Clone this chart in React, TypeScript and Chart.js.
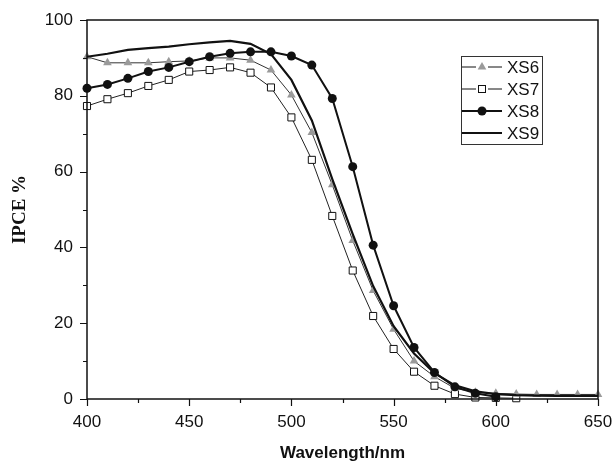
import React, { useEffect, useRef } from 'react';
import { Chart, registerables } from 'chart.js';

Chart.register(...registerables);

const wavelengths = [400, 410, 420, 430, 440, 450, 460, 470, 480, 490, 500, 510, 520, 530, 540, 550, 560, 570, 580, 590, 600, 610, 620, 630, 640, 650];
const xs6 = [90.3, 88.7, 88.7, 88.7, 89.0, 89.2, 90.0, 90.0, 89.4, 86.8, 80.2, 70.3, 56.5, 41.8, 28.6, 18.4, 10.0, 5.9, 2.8, 1.8, 1.5, 1.3, 1.2, 1.2, 1.2, 1.2];
const xs7 = [77.3, 79.1, 80.7, 82.6, 84.2, 86.4, 86.8, 87.5, 86.1, 82.2, 74.3, 63.1, 48.3, 33.9, 21.9, 13.2, 7.2, 3.5, 1.3, 0.4, 0.3, 0.2, null, null, null, null];
const xs8 = [82.0, 83.0, 84.6, 86.4, 87.5, 89.0, 90.3, 91.2, 91.6, 91.6, 90.5, 88.1, 79.3, 61.3, 40.6, 24.6, 13.6, 7.0, 3.2, 1.5, 0.6, null, null, null, null, null];
const xs9 = [90.3, 91.1, 92.1, 92.6, 93.0, 93.6, 94.1, 94.5, 93.7, 91.0, 84.2, 73.5, 58.0, 43.5, 29.8, 19.2, 12.0, 6.8, 3.6, 2.0, 1.3, 1.0, 0.9, 0.8, 0.8, 0.8];
const seriesNames = ['XS6', 'XS7', 'XS8', 'XS9'];
const xTickValues = [400, 450, 500, 550, 600, 650];
const yTickValues = [0, 20, 40, 60, 80, 100];
const xTitle = 'Wavelength/nm';
const yTitle = 'IPCE %';

const toPoints = (vals: (number | null)[]) =>
  wavelengths.map((w, i) => ({ x: w, y: vals[i] })).filter((p) => p.y !== null);

const SANS = '"Liberation Sans", Arial, sans-serif';
const SERIF = '"Liberation Serif", "Times New Roman", serif';

function drawMarker(ctx: CanvasRenderingContext2D, kind: string, x: number, y: number) {
  ctx.save();
  if (kind === 'triangle') {
    const r = 5;
    ctx.fillStyle = '#9a9a9a';
    ctx.beginPath();
    ctx.moveTo(x, y - r);
    ctx.lineTo(x + r * 0.866, y + r * 0.5);
    ctx.lineTo(x - r * 0.866, y + r * 0.5);
    ctx.closePath();
    ctx.fill();
  } else if (kind === 'rect') {
    ctx.fillStyle = '#fff';
    ctx.strokeStyle = '#111';
    ctx.lineWidth = 1;
    ctx.fillRect(x - 3.5, y - 3.5, 7, 7);
    ctx.strokeRect(x - 3.5, y - 3.5, 7, 7);
  } else if (kind === 'circle') {
    ctx.fillStyle = '#111';
    ctx.beginPath();
    ctx.arc(x, y, 4.5, 0, Math.PI * 2);
    ctx.fill();
  }
  ctx.restore();
}

const framePlugin = {
  id: 'framePlugin',
  afterDraw(chart: any) {
    const { ctx, chartArea } = chart;
    const { left, right, top, bottom } = chartArea;
    const xs = chart.scales.x;
    const ys = chart.scales.y;
    ctx.save();
    ctx.strokeStyle = '#111';
    ctx.lineWidth = 1.5;
    ctx.strokeRect(left, top, right - left, bottom - top);
    ctx.lineWidth = 1.2;
    ctx.beginPath();
    for (let v = 0; v <= 100; v += 10) {
      const py = Math.round(ys.getPixelForValue(v)) + 0.5;
      const len = v % 20 === 0 ? 7 : 4;
      ctx.moveTo(left - len, py);
      ctx.lineTo(left, py);
    }
    for (let v = 400; v <= 650; v += 25) {
      const px = Math.round(xs.getPixelForValue(v)) + 0.5;
      const len = v % 50 === 0 ? 7 : 4;
      ctx.moveTo(px, bottom);
      ctx.lineTo(px, bottom + len);
    }
    ctx.stroke();

    // axis titles
    ctx.fillStyle = '#111';
    ctx.font = `bold 17px ${SANS}`;
    ctx.textAlign = 'center';
    ctx.textBaseline = 'middle';
    ctx.fillText(xTitle, (left + right) / 2, 453);
    ctx.save();
    ctx.translate(20, (top + bottom) / 2);
    ctx.rotate(-Math.PI / 2);
    ctx.font = `bold 19px ${SERIF}`;
    ctx.fillText(yTitle, 0, 0);
    ctx.restore();

    // legend
    const bx = 461, by = 56, bw = 81, bh = 88;
    ctx.fillStyle = '#fff';
    ctx.fillRect(bx, by, bw, bh);
    ctx.strokeStyle = '#333';
    ctx.lineWidth = 1;
    ctx.strokeRect(bx + 0.5, by + 0.5, bw, bh);
    const kinds = ['triangle', 'rect', 'circle', 'none'];
    const widths = [1, 1, 2, 2.2];
    for (let i = 0; i < seriesNames.length; i++) {
      const yy = 67 + i * 22;
      ctx.strokeStyle = '#111';
      ctx.lineWidth = widths[i];
      ctx.beginPath();
      if (i < 2) {
        ctx.moveTo(462, yy);
        ctx.lineTo(476, yy);
        ctx.moveTo(488, yy);
        ctx.lineTo(502, yy);
      } else {
        ctx.moveTo(462, yy);
        ctx.lineTo(502, yy);
      }
      ctx.stroke();
      drawMarker(ctx, kinds[i], 482, yy);
      ctx.fillStyle = '#111';
      ctx.font = `17px ${SANS}`;
      ctx.textAlign = 'left';
      ctx.textBaseline = 'middle';
      ctx.fillText(seriesNames[i], 507, yy + 1);
    }
    ctx.restore();
  },
};

export default function App() {
  const canvasRef = useRef<HTMLCanvasElement | null>(null);

  useEffect(() => {
    if (!canvasRef.current) return;
    const chart = new Chart(canvasRef.current, {
      type: 'line',
      data: {
        datasets: [
          {
            label: seriesNames[0],
            data: toPoints(xs6),
            borderColor: '#333',
            borderWidth: 1,
            pointStyle: 'triangle',
            pointRadius: 5,
            pointBackgroundColor: '#9a9a9a',
            pointBorderColor: '#9a9a9a',
            pointBorderWidth: 0,
            clip: false,
            order: 2,
          },
          {
            label: seriesNames[1],
            data: toPoints(xs7),
            borderColor: '#222',
            borderWidth: 1,
            pointStyle: 'rect',
            pointRadius: 5,
            pointBackgroundColor: '#fff',
            pointBorderColor: '#111',
            pointBorderWidth: 1,
            clip: false,
            order: 3,
          },
          {
            label: seriesNames[2],
            data: toPoints(xs8),
            borderColor: '#111',
            borderWidth: 2,
            pointStyle: 'circle',
            pointRadius: 4.5,
            pointBackgroundColor: '#111',
            pointBorderColor: '#111',
            pointBorderWidth: 0,
            clip: false,
            order: 0,
          },
          {
            label: seriesNames[3],
            data: toPoints(xs9),
            borderColor: '#111',
            borderWidth: 2.2,
            pointRadius: 0,
            clip: false,
            order: 1,
          },
        ],
      },
      options: {
        animation: false,
        responsive: false,
        layout: { padding: { left: 0, top: 20, right: 16, bottom: 0 } },
        plugins: { legend: { display: false }, tooltip: { enabled: false } },
        scales: {
          x: {
            type: 'linear',
            min: 400,
            max: 650,
            afterBuildTicks: (scale: any) => {
              scale.ticks = xTickValues.map((v) => ({ value: v }));
            },
            ticks: { font: { family: SANS, size: 17 }, color: '#111', padding: 13 },
            grid: { display: false, drawTicks: false },
            border: { display: false },
            afterFit: (scale: any) => {
              scale.height = 63;
              scale.paddingLeft = 0;
              scale.paddingRight = 0;
            },
          },
          y: {
            type: 'linear',
            min: 0,
            max: 100,
            afterBuildTicks: (scale: any) => {
              scale.ticks = yTickValues.map((v) => ({ value: v }));
            },
            ticks: { font: { family: SANS, size: 17 }, color: '#111', padding: 14 },
            grid: { display: false, drawTicks: false },
            border: { display: false },
            afterFit: (scale: any) => {
              scale.width = 87;
              scale.paddingTop = 0;
              scale.paddingBottom = 0;
            },
          },
        },
      },
      plugins: [framePlugin],
    } as any);
    return () => chart.destroy();
  }, []);

  return (
    <div style={{ position: 'absolute', left: 0, top: 0, width: 614, height: 462, background: '#fff' }}>
      <canvas ref={canvasRef} width={614} height={462} style={{ display: 'block' }} />
    </div>
  );
}
